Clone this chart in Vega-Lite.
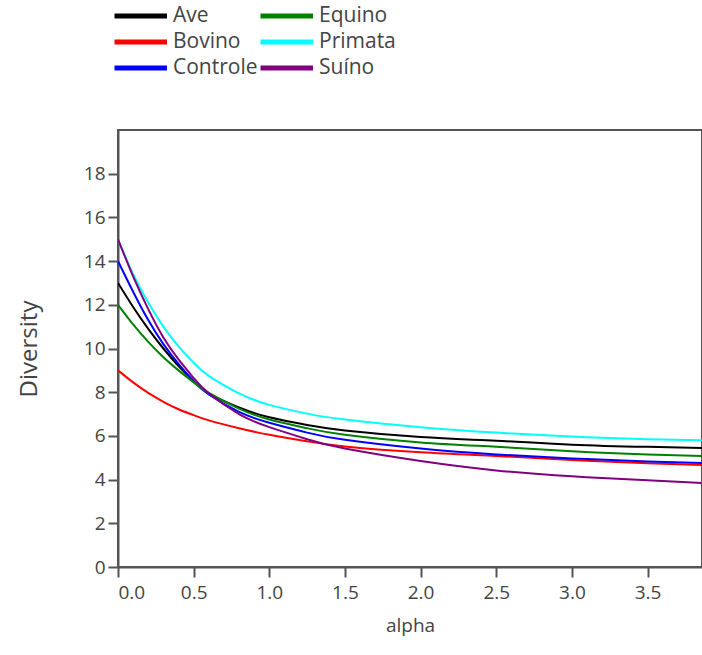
{
  "$schema": "https://vega.github.io/schema/vega-lite/v6.json",
  "autosize": "none",
  "padding": {"left": 118, "top": 130, "right": 0, "bottom": 88},
  "width": 584,
  "height": 437,
  "background": "white",
  "config": {
    "font": "Open Sans",
    "view": {"stroke": "#555555", "strokeWidth": 2},
    "axis": {
      "grid": false,
      "domainColor": "#555555",
      "domainWidth": 2,
      "tickColor": "#555555",
      "tickWidth": 2,
      "tickSize": 10,
      "labelFont": "Open Sans",
      "labelFontSize": 19,
      "labelColor": "#444444",
      "titleFont": "Open Sans",
      "titleFontSize": 19,
      "titleFontWeight": "normal",
      "titleColor": "#444444"
    }
  },
  "data": {"values": [
    {"alpha": 0, "group": "Ave", "diversity": 13},
    {"alpha": 0.1, "group": "Ave", "diversity": 11.9},
    {"alpha": 0.2, "group": "Ave", "diversity": 10.9},
    {"alpha": 0.3, "group": "Ave", "diversity": 10.0},
    {"alpha": 0.4, "group": "Ave", "diversity": 9.2},
    {"alpha": 0.5, "group": "Ave", "diversity": 8.5},
    {"alpha": 0.6, "group": "Ave", "diversity": 7.95},
    {"alpha": 0.8, "group": "Ave", "diversity": 7.3},
    {"alpha": 1.0, "group": "Ave", "diversity": 6.85},
    {"alpha": 1.25, "group": "Ave", "diversity": 6.5},
    {"alpha": 1.5, "group": "Ave", "diversity": 6.25},
    {"alpha": 2.0, "group": "Ave", "diversity": 5.95},
    {"alpha": 2.5, "group": "Ave", "diversity": 5.78},
    {"alpha": 3.0, "group": "Ave", "diversity": 5.6},
    {"alpha": 3.5, "group": "Ave", "diversity": 5.5},
    {"alpha": 3.86, "group": "Ave", "diversity": 5.45},
    {"alpha": 0, "group": "Bovino", "diversity": 9},
    {"alpha": 0.1, "group": "Bovino", "diversity": 8.45},
    {"alpha": 0.2, "group": "Bovino", "diversity": 7.97},
    {"alpha": 0.3, "group": "Bovino", "diversity": 7.56},
    {"alpha": 0.4, "group": "Bovino", "diversity": 7.22},
    {"alpha": 0.5, "group": "Bovino", "diversity": 6.95},
    {"alpha": 0.6, "group": "Bovino", "diversity": 6.71},
    {"alpha": 0.8, "group": "Bovino", "diversity": 6.35},
    {"alpha": 1.0, "group": "Bovino", "diversity": 6.05},
    {"alpha": 1.25, "group": "Bovino", "diversity": 5.75},
    {"alpha": 1.5, "group": "Bovino", "diversity": 5.52},
    {"alpha": 2.0, "group": "Bovino", "diversity": 5.25},
    {"alpha": 2.5, "group": "Bovino", "diversity": 5.08},
    {"alpha": 3.0, "group": "Bovino", "diversity": 4.9},
    {"alpha": 3.5, "group": "Bovino", "diversity": 4.75},
    {"alpha": 3.86, "group": "Bovino", "diversity": 4.67},
    {"alpha": 0, "group": "Controle", "diversity": 14},
    {"alpha": 0.1, "group": "Controle", "diversity": 12.6},
    {"alpha": 0.2, "group": "Controle", "diversity": 11.3},
    {"alpha": 0.3, "group": "Controle", "diversity": 10.2},
    {"alpha": 0.4, "group": "Controle", "diversity": 9.3},
    {"alpha": 0.5, "group": "Controle", "diversity": 8.5},
    {"alpha": 0.6, "group": "Controle", "diversity": 7.9},
    {"alpha": 0.8, "group": "Controle", "diversity": 7.1},
    {"alpha": 1.0, "group": "Controle", "diversity": 6.6},
    {"alpha": 1.25, "group": "Controle", "diversity": 6.15},
    {"alpha": 1.5, "group": "Controle", "diversity": 5.82},
    {"alpha": 2.0, "group": "Controle", "diversity": 5.42},
    {"alpha": 2.5, "group": "Controle", "diversity": 5.15},
    {"alpha": 3.0, "group": "Controle", "diversity": 4.97},
    {"alpha": 3.5, "group": "Controle", "diversity": 4.83},
    {"alpha": 3.86, "group": "Controle", "diversity": 4.76},
    {"alpha": 0, "group": "Equino", "diversity": 12},
    {"alpha": 0.1, "group": "Equino", "diversity": 11.1},
    {"alpha": 0.2, "group": "Equino", "diversity": 10.3},
    {"alpha": 0.3, "group": "Equino", "diversity": 9.6},
    {"alpha": 0.4, "group": "Equino", "diversity": 9.0},
    {"alpha": 0.5, "group": "Equino", "diversity": 8.45},
    {"alpha": 0.6, "group": "Equino", "diversity": 7.97},
    {"alpha": 0.8, "group": "Equino", "diversity": 7.25},
    {"alpha": 1.0, "group": "Equino", "diversity": 6.75},
    {"alpha": 1.25, "group": "Equino", "diversity": 6.35},
    {"alpha": 1.5, "group": "Equino", "diversity": 6.05},
    {"alpha": 2.0, "group": "Equino", "diversity": 5.7},
    {"alpha": 2.5, "group": "Equino", "diversity": 5.5},
    {"alpha": 3.0, "group": "Equino", "diversity": 5.3},
    {"alpha": 3.5, "group": "Equino", "diversity": 5.15},
    {"alpha": 3.86, "group": "Equino", "diversity": 5.08},
    {"alpha": 0, "group": "Primata", "diversity": 15},
    {"alpha": 0.1, "group": "Primata", "diversity": 13.4},
    {"alpha": 0.2, "group": "Primata", "diversity": 12.1},
    {"alpha": 0.3, "group": "Primata", "diversity": 11.0},
    {"alpha": 0.4, "group": "Primata", "diversity": 10.1},
    {"alpha": 0.5, "group": "Primata", "diversity": 9.35},
    {"alpha": 0.6, "group": "Primata", "diversity": 8.75},
    {"alpha": 0.8, "group": "Primata", "diversity": 7.95},
    {"alpha": 1.0, "group": "Primata", "diversity": 7.42},
    {"alpha": 1.25, "group": "Primata", "diversity": 7.02},
    {"alpha": 1.5, "group": "Primata", "diversity": 6.75},
    {"alpha": 2.0, "group": "Primata", "diversity": 6.4},
    {"alpha": 2.5, "group": "Primata", "diversity": 6.15},
    {"alpha": 3.0, "group": "Primata", "diversity": 5.97},
    {"alpha": 3.5, "group": "Primata", "diversity": 5.85},
    {"alpha": 3.86, "group": "Primata", "diversity": 5.8},
    {"alpha": 0, "group": "Suíno", "diversity": 15},
    {"alpha": 0.1, "group": "Suíno", "diversity": 13.3},
    {"alpha": 0.2, "group": "Suíno", "diversity": 11.8},
    {"alpha": 0.3, "group": "Suíno", "diversity": 10.5},
    {"alpha": 0.4, "group": "Suíno", "diversity": 9.5},
    {"alpha": 0.5, "group": "Suíno", "diversity": 8.65},
    {"alpha": 0.6, "group": "Suíno", "diversity": 7.95},
    {"alpha": 0.8, "group": "Suíno", "diversity": 7.0},
    {"alpha": 1.0, "group": "Suíno", "diversity": 6.4},
    {"alpha": 1.25, "group": "Suíno", "diversity": 5.85},
    {"alpha": 1.5, "group": "Suíno", "diversity": 5.42},
    {"alpha": 2.0, "group": "Suíno", "diversity": 4.85},
    {"alpha": 2.5, "group": "Suíno", "diversity": 4.42},
    {"alpha": 3.0, "group": "Suíno", "diversity": 4.15},
    {"alpha": 3.5, "group": "Suíno", "diversity": 3.97},
    {"alpha": 3.86, "group": "Suíno", "diversity": 3.85}
  ]},
  "mark": {"type": "line", "interpolate": "natural", "strokeWidth": 2, "clip": true},
  "encoding": {
    "x": {
      "field": "alpha", "type": "quantitative",
      "scale": {"domain": [0, 3.86], "nice": false, "zero": false},
      "axis": {"title": "alpha", "values": [0, 0.5, 1, 1.5, 2, 2.5, 3, 3.5], "format": ".1f", "labelPadding": 6, "titlePadding": 14}
    },
    "y": {
      "field": "diversity", "type": "quantitative",
      "scale": {"domain": [0, 20], "nice": false},
      "axis": {"title": "Diversity", "titleFontSize": 24, "values": [0, 2, 4, 6, 8, 10, 12, 14, 16, 18], "format": "d", "labelPadding": 3, "titlePadding": 42}
    },
    "color": {
      "field": "group", "type": "nominal",
      "scale": {
        "domain": ["Ave", "Bovino", "Controle", "Equino", "Primata", "Suíno"],
        "range": ["#000000", "#ff0000", "#0000ff", "#008000", "#00ffff", "#800080"]
      },
      "legend": {
        "title": null,
        "orient": "none",
        "legendX": -6,
        "legendY": -127,
        "columns": 2,
        "columnPadding": -12,
        "rowPadding": 3,
        "symbolType": "M-1,0H4",
        "symbolSize": 441,
        "symbolStrokeWidth": 5,
        "labelFont": "Open Sans",
        "labelFontSize": 21,
        "labelColor": "#444444",
        "labelOffset": 35,
        "labelLimit": 300
      }
    }
  }
}
